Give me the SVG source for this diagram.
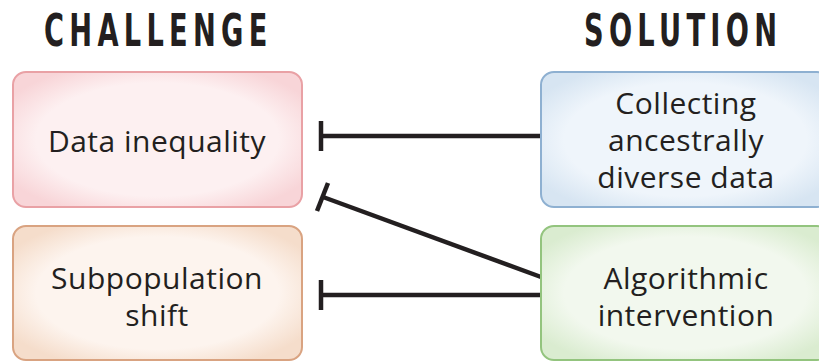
<svg xmlns="http://www.w3.org/2000/svg" width="819" height="362" viewBox="0 0 819 362">
<style>
.hd{font-family:"DejaVu Sans",sans-serif;font-weight:bold;font-size:44px;fill:#231f20;letter-spacing:8.5px}
.tx{font-family:"Open Sans","Noto Sans",sans-serif;font-size:30px;letter-spacing:0.5px;fill:#231f20;text-anchor:middle}
.box{stroke-width:2}
.con{stroke:#231f20;stroke-width:4.5;fill:none}
</style>
<defs>
<radialGradient id="gp" cx="0.5" cy="0.5" r="0.6"><stop offset="0.7" stop-color="#fdf0f1"/><stop offset="1" stop-color="#f8d5d8"/></radialGradient>
<radialGradient id="go" cx="0.5" cy="0.5" r="0.6"><stop offset="0.7" stop-color="#fdf4ee"/><stop offset="1" stop-color="#f5ddcb"/></radialGradient>
<radialGradient id="gb" cx="0.5" cy="0.5" r="0.6"><stop offset="0.7" stop-color="#eff5fb"/><stop offset="1" stop-color="#d7e5f2"/></radialGradient>
<radialGradient id="gg" cx="0.5" cy="0.5" r="0.6"><stop offset="0.7" stop-color="#f2f8ee"/><stop offset="1" stop-color="#daecd0"/></radialGradient>
</defs>
<g transform="translate(44,46) scale(0.62,1)">
<text class="hd" x="0" y="0">CHALLENGE</text>
</g>
<g transform="translate(584,46) scale(0.62,1)">
<text class="hd" x="0" y="0">SOLUTION</text>
</g>
<g id="connectors">
<line class="con" x1="321" y1="136" x2="541" y2="136"/>
<line class="con" x1="321" y1="121" x2="321" y2="151"/>
<line class="con" x1="323" y1="197" x2="541" y2="277"/>
<line class="con" x1="328" y1="183" x2="317" y2="211"/>
<line class="con" x1="321" y1="295" x2="541" y2="295"/>
<line class="con" x1="321" y1="280" x2="321" y2="310"/>
</g>
<g id="data-inequality">
<rect class="box" x="13" y="72" width="289" height="135" rx="13" fill="url(#gp)" stroke="#e9a1a5"/>
<text class="tx" x="157" y="152">Data inequality</text>
</g>
<g id="subpopulation-shift">
<rect class="box" x="13" y="226" width="289" height="134" rx="13" fill="url(#go)" stroke="#d9a381"/>
<text class="tx" x="157" y="289">Subpopulation</text>
<text class="tx" x="157" y="326">shift</text>
</g>
<g id="collecting-data">
<rect class="box" x="541" y="72" width="289" height="135" rx="13" fill="url(#gb)" stroke="#8eb0d1"/>
<text class="tx" x="686" y="114">Collecting</text>
<text class="tx" x="686" y="151">ancestrally</text>
<text class="tx" x="686" y="188">diverse data</text>
</g>
<g id="algorithmic-intervention">
<rect class="box" x="541" y="226" width="289" height="134" rx="13" fill="url(#gg)" stroke="#93c47e"/>
<text class="tx" x="686" y="289">Algorithmic</text>
<text class="tx" x="686" y="326">intervention</text>
</g>
</svg>
